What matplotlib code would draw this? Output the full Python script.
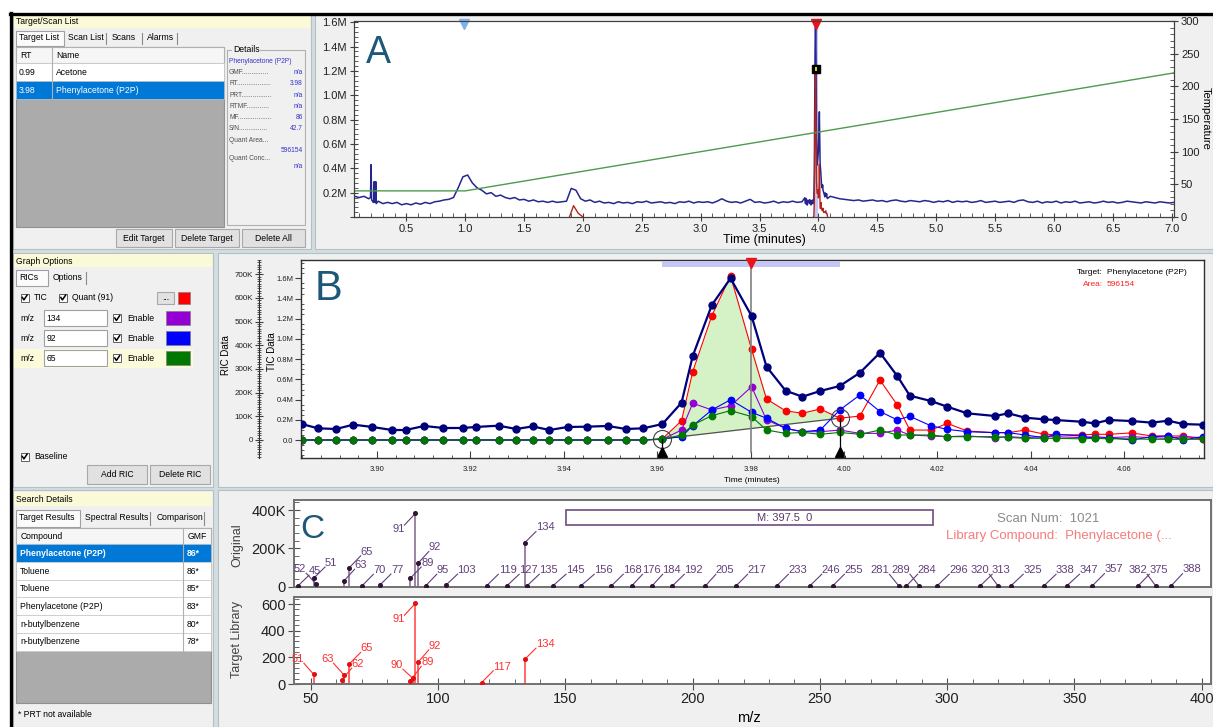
import numpy as np
import matplotlib
matplotlib.use("Agg")
import matplotlib.pyplot as plt
import matplotlib.transforms as mtransforms
from matplotlib.patches import Rectangle
from matplotlib.ticker import MultipleLocator, FuncFormatter

W, H = 1213, 727

plt.rcParams.update({
    "font.family": ["Liberation Sans", "DejaVu Sans"],
    "font.size": 8,
    "axes.linewidth": 0.8,
    "axes.edgecolor": "#404040",
    "xtick.color": "#404040",
    "ytick.color": "#404040",
    "xtick.labelcolor": "#202020",
    "ytick.labelcolor": "#202020",
})

# ---------------------------------------------------------------- method ----
TARGET_RT = [0.99, 3.98]
TARGET_NAMES = ["Acetone", "Phenylacetone (P2P)"]
DETAIL_FIELDS = ["GMF", "RT", "PRT", "RTMF", "MF", "S/N"]
DETAIL_DOTS = [14, 18, 16, 12, 18, 15]
DETAIL_VALUES = ["n/a", "3.98", "n/a", "n/a", "86", "42.7"]
QUANT_AREA = 596154
QUANT_ION = 91
RIC_IONS = [134, 92, 65]

# ------------------------------------------------------ TIC overview (A) ----
# one reading every 0.04 min, millions of counts
TIC_PRE_START = 0.06
TIC_PRE = [
    0.17, 0.16, 0.17, 0.15, 0.12, 0.13, 0.11, 0.12, 0.11, 0.12,
    0.10, 0.11, 0.10, 0.115, 0.105, 0.12, 0.11, 0.125, 0.13, 0.14,
    0.145, 0.16, 0.24, 0.33, 0.345,
    0.28, 0.24, 0.22, 0.19, 0.20, 0.17, 0.18, 0.16, 0.15, 0.16,
    0.14, 0.145, 0.13, 0.14, 0.125, 0.13, 0.12, 0.13, 0.12, 0.125,
    0.13, 0.235, 0.22, 0.15, 0.13,
    0.14, 0.12, 0.13, 0.115, 0.12, 0.11, 0.125, 0.115, 0.12, 0.11,
    0.125, 0.12, 0.13, 0.115, 0.12, 0.125, 0.115, 0.12, 0.11, 0.125,
    0.12, 0.13, 0.115, 0.125, 0.12,
    0.125, 0.115, 0.13, 0.15, 0.13, 0.12, 0.125, 0.115, 0.13, 0.145,
    0.12, 0.125, 0.115, 0.12, 0.13, 0.115, 0.125, 0.12, 0.13, 0.12,
    0.125,
]
TIC_POST_START = 4.10
TIC_POST = [
    0.17, 0.16, 0.15, 0.145, 0.14, 0.135, 0.14, 0.13, 0.135, 0.14,
    0.13, 0.135, 0.125, 0.135, 0.14, 0.13, 0.125, 0.135, 0.13, 0.125,
    0.135, 0.13, 0.12, 0.13, 0.125,
    0.135, 0.12, 0.13, 0.125, 0.13, 0.12, 0.125, 0.135, 0.12, 0.125,
    0.13, 0.12, 0.125, 0.13, 0.12, 0.135, 0.14, 0.125, 0.12, 0.13,
    0.115, 0.125, 0.12, 0.13, 0.115,
    0.125, 0.12, 0.13, 0.115, 0.12, 0.125, 0.115, 0.12, 0.13, 0.12,
    0.125, 0.115, 0.12, 0.13, 0.125, 0.12, 0.115, 0.125, 0.12, 0.115,
    0.125, 0.12, 0.115, 0.12,
]
TIC_SPIKE_TIME = [0.195, 0.200, 0.205, 0.222, 0.226, 0.230, 0.236, 0.240, 0.244]
TIC_SPIKE = [0.16, 0.43, 0.14, 0.13, 0.29, 0.12, 0.12, 0.29, 0.11]

QUANT_BUMP_TIME = [1.885, 1.92, 1.96, 2.0]
QUANT_BUMP = [0.0, 0.093, 0.03, 0.0]
QUANT_GAIN_A = 1.7e-3          # K counts -> overview scale

TEMP_TIME = [0.0, 1.0, 7.1]
TEMP_C = [40, 40, 223]

# ------------------------------------------------ scans across P2P (B) ----
SCAN_TIME = [
    3.8839, 3.8873, 3.8912, 3.8949, 3.8990, 3.9032, 3.9061, 3.9101, 3.9142, 3.9183,
    3.9211, 3.9260, 3.9298, 3.9333, 3.9369, 3.9408, 3.9449, 3.9494, 3.9533, 3.9570,
    3.9611, 3.9652, 3.9676, 3.9717, 3.9757, 3.9802, 3.9834, 3.9875, 3.9911, 3.9949,
    3.9991, 4.0034, 4.0077, 4.0114, 4.0141, 4.0186, 4.0221, 4.0264, 4.0323, 4.0352,
    4.0388, 4.0428, 4.0453, 4.0509, 4.0537, 4.0567, 4.0616, 4.0659, 4.0694, 4.0727,
    4.0768,
]
TIC_SCAN = [          # M counts
    0.158, 0.116, 0.109, 0.152, 0.129, 0.099, 0.099, 0.139, 0.119, 0.119,
    0.129, 0.142, 0.109, 0.135, 0.099, 0.129, 0.132, 0.139, 0.109, 0.116,
    0.158, 0.369, 0.832, 1.337, 1.601, 1.228, 0.726, 0.488, 0.429, 0.485,
    0.535, 0.666, 0.864, 0.634, 0.439, 0.386, 0.330, 0.264, 0.238, 0.264,
    0.221, 0.205, 0.198, 0.181, 0.165, 0.198, 0.188, 0.172, 0.191, 0.158,
    0.152,
]
Z20 = [0] * 20
RIC_91 = Z20 + [  # K counts
    5, 81, 289, 525, 693, 383, 173, 123, 113, 131,
    92, 101, 253, 148, 42, 42, 70, 38, 31, 31,
    42, 25, 22, 22, 24, 24, 30, 17, 17, 17, 3,
]
RIC_134 = Z20 + [
    3, 42, 155, 127, 144, 225, 85, 49, 35, 35,
    42, 28, 28, 42, 21, 17, 14, 17, 10, 14,
    10, 14, 14, 10, 14, 10, 14, 10, 7, 14, 10,
]
RIC_92 = Z20 + [
    5, 14, 60, 127, 170, 117, 92, 49, 35, 42,
    127, 190, 120, 85, 100, 60, 45, 35, 31, 31,
    21, 10, 24, 17, 7, 10, 0, 14, 17, 0, 14,
]
RIC_65 = Z20 + [
    3, 21, 63, 103, 124, 99, 42, 28, 32, 24,
    32, 24, 42, 21, 21, 21, 14, 14, 14, 11,
    7, 7, 7, 5, 7, 5, 5, 3, 3, 3, 3,
]
PEAK_START, PEAK_END = 20, 30      # integration limits (scan index)

# ------------------------------------------------- spectrum, scan 1021 ----
SCAN_NUMBER = 1021
ORIG_MZ = [45, 51, 52, 63, 65, 70, 77, 89, 91, 92, 95, 103, 119, 127, 134, 135,
           145, 156, 168, 176, 184, 192, 205, 217, 233, 246, 255, 281, 284, 289,
           296, 313, 320, 325, 338, 347, 357, 375, 382, 388]
ORIG_INT = [6, 44, 14, 31, 99, 4, 8, 44, 383, 122, 4, 8, 5, 5, 230, 6,
            4, 4, 4, 4, 4, 4, 4, 4, 4, 4, 4, 4, 4, 4,
            4, 4, 4, 4, 4, 4, 4, 4, 4, 4]          # K counts
LIB_MZ = [51, 62, 63, 65, 89, 90, 91, 92, 117, 134]
LIB_INT = [73, 30, 67, 150, 25, 43, 605, 163, 10, 185]

# where each peak label sits (m/z, intensity)
ORIG_LABEL_X = [51.6, 57.9, 45.7, 69.5, 71.9, 76.9, 83.8, 95.7, 84.3, 98.7,
                101.8, 111.2, 127.2, 135.4, 142.0, 143.3, 153.8, 164.9, 176.3, 183.9,
                191.8, 200.3, 212.7, 225.2, 241.2, 254.3, 263.2, 273.7, 292.0, 281.8,
                304.4, 321.3, 313.0, 333.5, 346.4, 355.6, 365.4, 383.1, 375.0, 396.1]
ORIG_LABEL_Y = [82, 125, 92, 113, 183, 87, 88, 125, 300, 206,
                87, 88, 87, 87, 310, 87, 87, 87, 87, 87,
                87, 87, 87, 87, 87, 87, 87, 87, 87, 87,
                87, 87, 87, 87, 87, 87, 90, 87, 87, 90]
LIB_LABEL_X = [44.8, 68.4, 56.4, 71.9, 95.7, 83.7, 84.3, 98.7, 125.2, 142.0]
LIB_LABEL_Y = [187, 150, 187, 268, 163, 142, 485, 287, 130, 300]

# ---------------------------------------------------------- hit list ----
HIT_NAMES = ["Phenylacetone (P2P)", "Toluene", "Toluene", "Phenylacetone (P2P)",
             "n-butylbenzene", "n-butylbenzene"]
HIT_GMF = [86, 86, 85, 83, 80, 78]

# ---------------------------------------------------------------- colours --
PANEL_BG = "#f0f0f0"
SEP = "#d3dcdf"
HEADER = "#fafad8"
SELECT = "#0078d7"
QUANT_COLOR = "#ff0000"
ION_COLORS = ["#9400d3", "#0000ff", "#007800"]
TIC_COLOR = "#00007a"
LETTER = "#1d5878"


fig = plt.figure(figsize=(W / 100, H / 100), dpi=100)

bg = fig.add_axes([0, 0, 1, 1])
bg.set_xlim(0, W)
bg.set_ylim(H, 0)
bg.axis("off")
bg.set_zorder(-10)


def place(x0, y0, x1, y1):
    return fig.add_axes([x0 / W, 1 - y1 / H, (x1 - x0) / W, (y1 - y0) / H])


def ftext(x, y, s, **kw):
    kw.setdefault("va", "center")
    fig.text(x / W, 1 - y / H, s, **kw)


def box(x0, y0, x1, y1, fc, ec="none", lw=0.8, z=1):
    bg.add_patch(Rectangle((x0, y0), x1 - x0, y1 - y0, facecolor=fc,
                           edgecolor=ec, linewidth=lw, zorder=z))


def ui(x, y, s, size=6.2, color="black", ha="left", weight="normal"):
    bg.text(x, y, s, fontsize=size, color=color, ha=ha, va="center",
            fontweight=weight, zorder=6)


def button(x0, y0, x1, y1, s):
    box(x0, y0, x1, y1, "#e1e1e1", "#a8a8a8", z=2)
    ui((x0 + x1) / 2, (y0 + y1) / 2 + 0.5, s, ha="center")


def checkbox(x, y):
    box(x, y - 4, x + 8, y + 4, "white", "#606060", lw=0.7, z=3)
    bg.plot([x + 1.8, x + 3.4, x + 6.6], [y - 0.3, y + 2.2, y - 2.6],
            color="black", lw=1.1, zorder=4)


def tab_strip(y0, y1, first_end, first, others):
    box(16, y0, first_end, y1 + 1, "#fbfbfb", "#a0a0a0", z=2)
    ui(19, (y0 + y1) / 2, first)
    for name, x, xsep in others:
        ui(x, (y0 + y1) / 2, name)
        bg.plot([xsep, xsep], [y0 + 2, y1 - 1], color="#8a8a8a", lw=0.8, zorder=3)


# window frame and panels
box(0, 0, W, H, "white")
box(11, 14, W, H, SEP)
for x0, y0, x1, y1 in [(13, 15, 311, 249), (315, 15, W, 249), (13, 253, 213, 487),
                       (218, 253, W, 487), (13, 490, 213, H), (218, 490, W, H)]:
    box(x0, y0, x1, y1, PANEL_BG, "#b4c0c4", lw=0.8)
bg.plot([10, W], [13.5, 13.5], color="black", lw=2.4, zorder=8)
bg.plot([11, 11], [13, H], color="black", lw=2.4, zorder=8)

# --- Target/Scan List
box(14, 16, 310, 28, HEADER, z=2)
ui(16, 22, "Target/Scan List")
tab_strip(31, 45, 64, "Target List",
          [("Scan List", 68, 106), ("Scans", 112, 142), ("Alarms", 147, 177)])
box(16, 46.5, 224, 227, "#ababab", "#909090", z=2)
box(16, 46.5, 224, 63.3, "#f6f6f6", "#b0b0b0", z=3)
ui(20, 55, "RT")
ui(56, 55, "Name")
row_fill = ["white", SELECT]
row_text = ["black", "white"]
for i, (rt, name) in enumerate(zip(TARGET_RT, TARGET_NAMES)):
    y0 = 63.3 + i * 17.8
    box(16, y0, 224, y0 + 17.8, row_fill[i], "#c8c8c8", lw=0.5, z=3)
    ui(19, y0 + 9, f"{rt:.2f}", color=row_text[i])
    ui(56, y0 + 9, name, color=row_text[i])
bg.plot([52.3, 52.3], [46.5, 99], color="#b0b0b0", lw=0.8, zorder=4)

box(227, 50, 305, 225, "none", "#b0b0b0", z=2)
bg.text(233, 50, "Details", fontsize=6.2, va="center", zorder=6,
        bbox=dict(facecolor=PANEL_BG, edgecolor="none", pad=0.6))
ui(229, 61.7, TARGET_NAMES[1], size=4.8, color="#3333cc")
for i, (fld, n, val) in enumerate(zip(DETAIL_FIELDS, DETAIL_DOTS, DETAIL_VALUES)):
    y = 72.7 + i * 11.2
    ui(229, y, fld + "." * n, size=4.8, color="#505050")
    ui(303, y, val, size=4.8, color="#3333cc", ha="right")
ui(229, 140.7, "Quant Area...", size=4.8, color="#505050")
ui(303, 150, str(QUANT_AREA), size=4.8, color="#3333cc", ha="right")
ui(229, 158.3, "Quant Conc...", size=4.8, color="#505050")
ui(303, 167, "n/a", size=4.8, color="#3333cc", ha="right")
button(116, 229, 172, 247, "Edit Target")
button(175, 229, 239, 247, "Delete Target")
button(242, 229, 305, 247, "Delete All")

# --- Graph Options
box(14, 254, 212, 267, HEADER, z=2)
ui(16, 261, "Graph Options")
tab_strip(270, 285, 48.3, "RICs", [("Options", 53, 86)])
checkbox(20.5, 297.7)
ui(34, 297.7, "TIC")
checkbox(59, 297.7)
ui(72, 297.7, f"Quant ({QUANT_ION})")
button(157, 291.5, 174, 303.5, "...")
box(178, 291.5, 189.5, 303.5, QUANT_COLOR, "#808080", lw=0.5, z=3)
box(14, 348.5, 193, 368, "#fbfbdc", z=2)
for i, (ion, col) in enumerate(zip(RIC_IONS, ION_COLORS)):
    y = 318.3 + i * 20
    ui(20, y, "m/z")
    box(43.5, y - 8.5, 107.3, y + 8, "white", "#a0a0a0", z=3)
    ui(46.5, y, str(ion))
    checkbox(113, y)
    ui(127, y, "Enable")
    box(165.7, y - 7, 189.5, y + 7, col, "#808080", lw=0.5, z=3)
checkbox(20.5, 456.7)
ui(34, 456.7, "Baseline")
button(87, 465, 147, 483.5, "Add RIC")
button(149.5, 465, 210, 483.5, "Delete RIC")

# --- Search Details
box(14, 491.5, 212, 506, HEADER, z=2)
ui(16, 499.5, "Search Details")
tab_strip(510, 526, 80, "Target Results",
          [("Spectral Results", 85, 150), ("Comparison", 156.5, 204)])
box(16, 528.3, 210.7, 703.3, "#ababab", "#909090", z=2)
box(16, 528.3, 210.7, 544.3, "#f6f6f6", "#b0b0b0", z=3)
ui(21, 536.3, "Compound")
ui(188, 536.3, "GMF")
for i, (name, gmf) in enumerate(zip(HIT_NAMES, HIT_GMF)):
    y0 = 544.3 + i * 17.73
    sel = i == 0
    box(16, y0, 210.7, y0 + 17.73, SELECT if sel else "white", "#c8c8c8", lw=0.5, z=3)
    ui(20, y0 + 9, name, color="white" if sel else "black",
       weight="bold" if sel else "normal")
    ui(187, y0 + 9, f"{gmf}*", color="white" if sel else "black",
       weight="bold" if sel else "normal")
bg.plot([183.3, 183.3], [528.3, 650.7], color="#b0b0b0", lw=0.8, zorder=4)
ui(18.5, 714.3, "* PRT not available")

# ------------------------------------------------------------ panel A ----
ax_a = place(354, 21, 1174, 217)
ax_a.set_facecolor("white")
t_pre = TIC_PRE_START + 0.04 * np.arange(len(TIC_PRE))
t_post = TIC_POST_START + 0.04 * np.arange(len(TIC_POST))
tic_t = np.concatenate([t_pre, TIC_SPIKE_TIME, SCAN_TIME, t_post])
tic_v = np.concatenate([TIC_PRE, TIC_SPIKE, TIC_SCAN, TIC_POST])
order = np.argsort(tic_t)
t_lo, t_hi = SCAN_TIME[PEAK_START], SCAN_TIME[PEAK_END]

ax_a.axvspan(t_lo, t_hi, color="#c6c6f4", lw=0, zorder=1)
ax_a.plot(tic_t[order], tic_v[order], color="#26268f", lw=1.1, zorder=2)
ax_a.plot(QUANT_BUMP_TIME, QUANT_BUMP, color="#b3261e", lw=1.0, zorder=3)
ax_a.plot(SCAN_TIME[PEAK_START - 1:],
          np.array(RIC_91[PEAK_START - 1:]) * QUANT_GAIN_A,
          color="#b3261e", lw=1.0, zorder=3)
ax_a.set_xlim(0.055, 7.02)
ax_a.set_ylim(0, 1.61)

top_a = mtransforms.blended_transform_factory(ax_a.transData, ax_a.transAxes)
for rt, col in zip(TARGET_RT, ["#7fb2e8", "#e8141c"]):
    ax_a.plot(rt, 0.985, marker="v", ms=6.5, color=col, transform=top_a,
              clip_on=False, zorder=6)
ax_a.plot(TARGET_RT[1], 0.757, marker="s", ms=5.5, color="black",
          transform=top_a, zorder=6)
ax_a.plot(TARGET_RT[1], 0.757, marker="|", ms=3.5, mew=1.3, color="#f2e600",
          transform=top_a, zorder=7)

ax_a.xaxis.set_major_locator(MultipleLocator(0.5))
ax_a.xaxis.set_minor_locator(MultipleLocator(0.1))
ax_a.xaxis.set_major_formatter(FuncFormatter(lambda v, _: f"{v:.1f}"))
ax_a.yaxis.set_major_locator(MultipleLocator(0.2))
ax_a.yaxis.set_minor_locator(MultipleLocator(0.04))
ax_a.yaxis.set_major_formatter(
    FuncFormatter(lambda v, _: "" if abs(v) < 1e-6 else f"{v:.1f}M"))
ax_a.tick_params(which="major", direction="inout", length=6, labelsize=8, pad=2)
ax_a.tick_params(which="minor", direction="in", length=3)

ax_t = ax_a.twinx()
ax_t.plot(TEMP_TIME, TEMP_C, color="#4f9a4f", lw=1.0)
ax_t.set_ylim(0, 300)
ax_t.yaxis.set_major_locator(MultipleLocator(50))
ax_t.yaxis.set_minor_locator(MultipleLocator(10))
ax_t.tick_params(which="major", direction="inout", length=6, labelsize=8, pad=2)
ax_t.tick_params(which="minor", direction="in", length=3)

ftext(764, 240, "Time (minutes)", ha="center", fontsize=9)
ftext(1201, 118, "Temperature", rotation=270, ha="left", fontsize=8)
ftext(366, 63, "A", fontsize=27, color=LETTER, va="baseline")

# ------------------------------------------------------------ panel B ----
ax_b = place(301, 260, 1204, 458)
ax_r = ax_b.twinx()
ax_b.set_zorder(ax_r.get_zorder() + 1)
ax_b.patch.set_visible(False)
ax_r.patch.set_visible(True)
ax_r.patch.set_facecolor("white")

ax_b.set_xlim(3.8837, 4.0771)
ax_b.set_ylim(-0.178, 1.782)
ax_r.set_ylim(-76, 760)

scan = np.array(SCAN_TIME)
red = np.array(RIC_91, dtype=float)
win = slice(PEAK_START, PEAK_END + 1)
base = np.interp(scan[win], [t_lo, t_hi], [red[PEAK_START], red[PEAK_END]])
ax_r.fill_between(scan[win], red[win], base, color="#d4f2c6", lw=0, zorder=1)
ax_r.plot([t_lo, t_hi], [red[PEAK_START], red[PEAK_END]], color="#505050",
          lw=0.9, zorder=2)

ax_r.plot(scan, red, color=QUANT_COLOR, lw=0.8, marker="o", ms=4.6, zorder=3)
for z, (vals, col) in enumerate(zip([RIC_134, RIC_92, RIC_65], ION_COLORS)):
    ax_r.plot(scan, vals, color=col, lw=0.8, marker="o", ms=4.6, zorder=4 + z)

for i in (PEAK_START, PEAK_END):
    ax_r.plot([scan[i], scan[i]], [-52, red[i]], color="black", lw=0.9, zorder=8)
    ax_r.plot(scan[i], red[i], marker="o", ms=13, mfc="none", mec="#404040",
              mew=0.8, zorder=8)
    ax_r.plot(scan[i], -52, marker="^", ms=7, color="black", zorder=9)

ax_b.plot(scan, TIC_SCAN, color=TIC_COLOR, lw=1.6, marker="o", ms=5, zorder=5)

top_b = mtransforms.blended_transform_factory(ax_b.transData, ax_b.transAxes)
ax_b.add_patch(Rectangle((t_lo, 0.966), t_hi - t_lo, 0.03, transform=top_b,
                         facecolor="#c6c6f4", edgecolor="none", zorder=3))
ax_b.axvline(TARGET_RT[1], ymin=0.03, ymax=0.99, color="#808080", lw=1.2, zorder=4)
ax_b.plot(TARGET_RT[1], 0.985, marker="v", ms=7, color="#e8141c",
          transform=top_b, clip_on=False, zorder=9)

for s in ax_b.spines.values():
    s.set_color("#303030")
    s.set_linewidth(1.0)
for s in ("right", "top", "bottom"):
    ax_r.spines[s].set_visible(False)
ax_r.spines["left"].set_visible(True)
ax_r.spines["left"].set_position(("outward", 30))
ax_r.spines["left"].set_color("#303030")
ax_r.yaxis.tick_left()

ax_b.xaxis.set_major_locator(MultipleLocator(0.02))
ax_b.xaxis.set_minor_locator(MultipleLocator(0.004))
ax_b.xaxis.set_major_formatter(FuncFormatter(lambda v, _: f"{v:.2f}"))
ax_b.yaxis.set_major_locator(MultipleLocator(0.2))
ax_b.yaxis.set_minor_locator(MultipleLocator(0.05))
ax_b.yaxis.set_major_formatter(
    FuncFormatter(lambda v, _: "0.0" if abs(v) < 1e-6 else f"{v:.1f}M"))
ax_b.tick_params(axis="x", which="major", direction="in", length=5,
                 labelsize=5.5, pad=6)
ax_b.tick_params(axis="x", which="minor", direction="in", length=2.5)
ax_b.tick_params(axis="y", which="major", direction="out", length=4,
                 labelsize=5.5, pad=1.5)
ax_b.tick_params(axis="y", which="minor", direction="in", length=2)

ax_r.yaxis.set_major_locator(MultipleLocator(100))
ax_r.yaxis.set_minor_locator(MultipleLocator(10))
ax_r.yaxis.set_major_formatter(
    FuncFormatter(lambda v, _: "0" if abs(v) < 1e-6 else f"{v:.0f}K"))
ax_r.tick_params(axis="y", which="major", direction="inout", length=6,
                 labelsize=5.8, pad=1.5)
ax_r.tick_params(axis="y", which="minor", direction="inout", length=3)

ftext(226, 355, "RIC Data", rotation=90, ha="center", fontsize=7)
ftext(272, 352, "TIC Data", rotation=90, ha="center", fontsize=7)
ftext(752, 480, "Time (minutes)", ha="center", fontsize=6)
ftext(1103, 273, "Target:", ha="right", fontsize=6)
ftext(1107, 273, TARGET_NAMES[1], ha="left", fontsize=6)
ftext(1103, 284.5, "Area:", ha="right", fontsize=6, color="#ff2020")
ftext(1107, 284.5, str(QUANT_AREA), ha="left", fontsize=6, color="#ff2020")
ftext(315, 300, "B", fontsize=30, color=LETTER, va="baseline")

# ------------------------------------------------------------ panel C ----
ax_c1 = place(294, 500, 1211, 586.7)
ax_c2 = place(294, 596.7, 1211, 684)
for ax in (ax_c1, ax_c2):
    ax.set_facecolor("white")
    ax.set_xlim(43.3, 403.7)
    for s in ax.spines.values():
        s.set_color("#707070")
        s.set_linewidth(1.4)
ax_c1.set_ylim(0, 453)
ax_c2.set_ylim(0, 655)


def draw_spectrum(ax, mz, inten, lab_x, lab_y, stem, dot, txt, half_h):
    ax.vlines(mz, 0, inten, color=stem, lw=1.3, zorder=2)
    ax.plot(mz, inten, "o", ms=2.6, color=dot, zorder=3)
    for m, v, x, y in zip(mz, inten, lab_x, lab_y):
        s = str(m)
        hw = 1.2 * len(s)
        end_x = x - hw if x > m else x + hw
        end_y = y - half_h if y > v else y + half_h
        ax.plot([m, end_x], [v, end_y], color=txt, lw=0.8, zorder=2)
        ax.text(x, y, s, ha="center", va="center", fontsize=8, color=txt,
                clip_on=False, zorder=4)


draw_spectrum(ax_c1, ORIG_MZ, ORIG_INT, ORIG_LABEL_X, ORIG_LABEL_Y,
              "#947a9e", "#2d1533", "#61407a", 22)
draw_spectrum(ax_c2, LIB_MZ, LIB_INT, LIB_LABEL_X, LIB_LABEL_Y,
              "#ff5a5a", "#e01010", "#ff3030", 31)

ax_c1.add_patch(Rectangle((0.297, 0.712), 0.4, 0.173, transform=ax_c1.transAxes,
                          facecolor="white", edgecolor="#7a5a8a", lw=1.3, zorder=5))
ftext(757, 518, "M: 397.5  0", ha="left", fontsize=8, color="#5a3a6a")
ftext(997, 519, f"Scan Num:  {SCAN_NUMBER}", ha="left", fontsize=9.5, color="#8a8a8a")
ftext(946, 536, "Library Compound:  Phenylacetone (...", ha="left",
      fontsize=9.5, color="#f47c7c")

k_fmt = FuncFormatter(lambda v, _: "0" if abs(v) < 1e-6 else f"{v:.0f}K")
ax_c1.yaxis.set_major_locator(MultipleLocator(200))
ax_c1.yaxis.set_minor_locator(MultipleLocator(40))
ax_c1.yaxis.set_major_formatter(k_fmt)
ax_c1.tick_params(axis="x", which="both", bottom=False, labelbottom=False)
ax_c2.yaxis.set_major_locator(MultipleLocator(200))
ax_c2.yaxis.set_minor_locator(MultipleLocator(40))
ax_c2.xaxis.set_major_locator(MultipleLocator(50))
ax_c2.xaxis.set_minor_locator(MultipleLocator(10))
for ax in (ax_c1, ax_c2):
    ax.tick_params(which="major", direction="inout", length=8, labelsize=10.5,
                   pad=2, color="#505050")
    ax.tick_params(which="minor", direction="in", length=3.5, color="#505050")

ftext(237, 545, "Original", rotation=90, ha="center", fontsize=9, color="#404040")
ftext(237, 640, "Target Library", rotation=90, ha="center", fontsize=9,
      color="#404040")
ftext(749, 718, "m/z", ha="center", fontsize=10.5)
ftext(300, 538, "C", fontsize=24, color=LETTER, va="baseline")

fig.savefig("out.png", dpi=100)
